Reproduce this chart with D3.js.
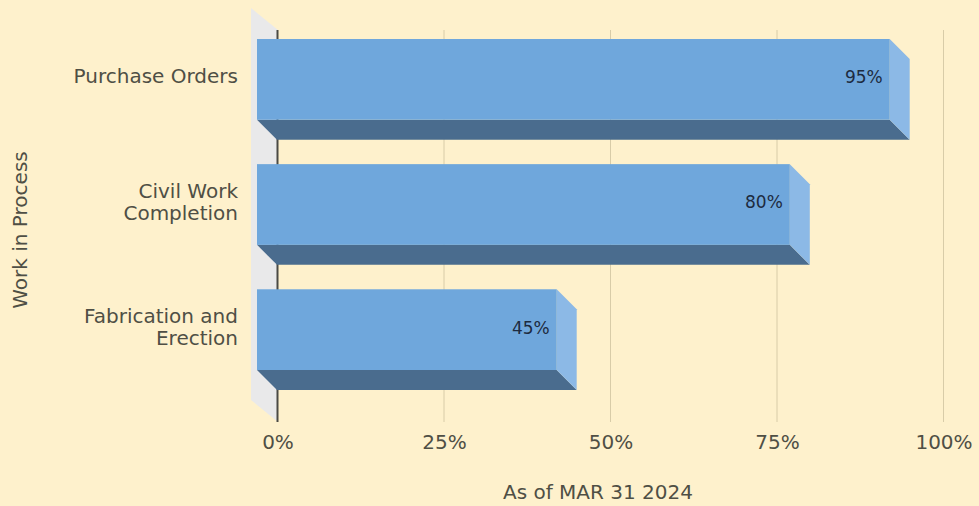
<!DOCTYPE html>
<html>
<head>
<meta charset="utf-8">
<script src="https://cdn.jsdelivr.net/npm/d3@7"></script>
<style>
  html, body { margin: 0; padding: 0; background: #fef1cc; }
  svg { display: block; font-family: "DejaVu Sans", Verdana, sans-serif; }
</style>
</head>
<body>
<svg id="chart" width="979" height="506"></svg>
<script>
// chart data
const categories = [["Purchase Orders"], ["Civil Work", "Completion"], ["Fabrication and", "Erection"]];
const values = [95, 80, 45];
const tickValues = [0, 25, 50, 75, 100];
const xTitle = "As of MAR 31 2024";
const yTitle = "Work in Process";

const width = 979, height = 506;
const depth = 20; // 3d offset of back plane

const svg = d3.select("#chart");

svg.append("rect")
    .attr("width", width)
    .attr("height", height)
    .attr("fill", "#fef1cc");

// front plane scale, back plane is shifted by depth
const x = d3.scaleLinear().domain([0, 100]).range([257, 923]);
const y = d3.scaleBand()
    .domain(d3.range(categories.length))
    .range([39, 370])
    .paddingInner(0.355)
    .paddingOuter(0);

const plotTop = 30, plotBottom = 422;

// left wall
svg.append("polygon")
    .attr("points", [[251, plotTop - depth - 2], [x(0) + depth + 1, plotTop], [x(0) + depth + 1, plotBottom], [251, plotBottom - depth - 2]].join(" "))
    .attr("fill", "#e9e9ea");

// grid lines on back plane
svg.append("g")
    .selectAll("line")
    .data(tickValues.filter(d => d > 0))
    .join("line")
    .attr("x1", d => x(d) + depth + 0.5)
    .attr("x2", d => x(d) + depth + 0.5)
    .attr("y1", plotTop)
    .attr("y2", plotBottom)
    .attr("stroke", "#d8cca8")
    .attr("stroke-width", 1);

// zero line
svg.append("line")
    .attr("x1", x(0) + depth + 0.5)
    .attr("x2", x(0) + depth + 0.5)
    .attr("y1", plotTop)
    .attr("y2", plotBottom)
    .attr("stroke", "#4a4a44")
    .attr("stroke-width", 2);

// bars
const bars = svg.append("g")
    .selectAll("g")
    .data(values)
    .join("g");

// bottom face
bars.append("polygon")
    .attr("points", (d, i) => {
        const y1 = y(i) + y.bandwidth();
        return [[x(0), y1], [x(d), y1], [x(d) + depth, y1 + depth], [x(0) + depth, y1 + depth]].join(" ");
    })
    .attr("fill", "#4a6c8e");

// right side face
bars.append("polygon")
    .attr("points", (d, i) => {
        const y0 = y(i), y1 = y(i) + y.bandwidth();
        return [[x(d), y0], [x(d) + depth, y0 + depth], [x(d) + depth, y1 + depth], [x(d), y1]].join(" ");
    })
    .attr("fill", "#8cb9e6");

// front face
bars.append("rect")
    .attr("x", x(0))
    .attr("y", (d, i) => y(i))
    .attr("width", d => x(d) - x(0))
    .attr("height", y.bandwidth())
    .attr("fill", "#6fa7dc");

// value labels
bars.append("text")
    .attr("x", d => x(d) - 7)
    .attr("y", (d, i) => y(i) + y.bandwidth() / 2 - 2)
    .attr("dy", "0.35em")
    .attr("text-anchor", "end")
    .attr("font-size", 17)
    .attr("fill", "#1d2b40")
    .text(d => d + "%");

// category labels
svg.append("g")
    .selectAll("text")
    .data(categories)
    .join("text")
    .attr("text-anchor", "end")
    .attr("font-size", 20)
    .attr("fill", "#4f4f45")
    .each(function (lines, i) {
        const cy = y(i) + y.bandwidth() / 2 - 3;
        const lh = 22;
        d3.select(this).selectAll("tspan")
            .data(lines)
            .join("tspan")
            .attr("x", 238)
            .attr("y", (l, j) => cy + (j - (lines.length - 1) / 2) * lh)
            .attr("dy", "0.35em")
            .text(l => l);
    });

// tick labels
svg.append("g")
    .selectAll("text")
    .data(tickValues)
    .join("text")
    .attr("x", d => x(d) + depth + 1)
    .attr("y", 442)
    .attr("dy", "0.35em")
    .attr("text-anchor", "middle")
    .attr("font-size", 20)
    .attr("fill", "#4f4f45")
    .text(d => d + "%");

// axis titles
svg.append("text")
    .attr("x", 598)
    .attr("y", 492)
    .attr("dy", "0.35em")
    .attr("text-anchor", "middle")
    .attr("font-size", 20)
    .attr("fill", "#4f4f45")
    .text(xTitle);

svg.append("text")
    .attr("transform", "translate(20,230) rotate(-90)")
    .attr("dy", "0.35em")
    .attr("text-anchor", "middle")
    .attr("font-size", 20)
    .attr("fill", "#4f4f45")
    .text(yTitle);
</script>
</body>
</html>
